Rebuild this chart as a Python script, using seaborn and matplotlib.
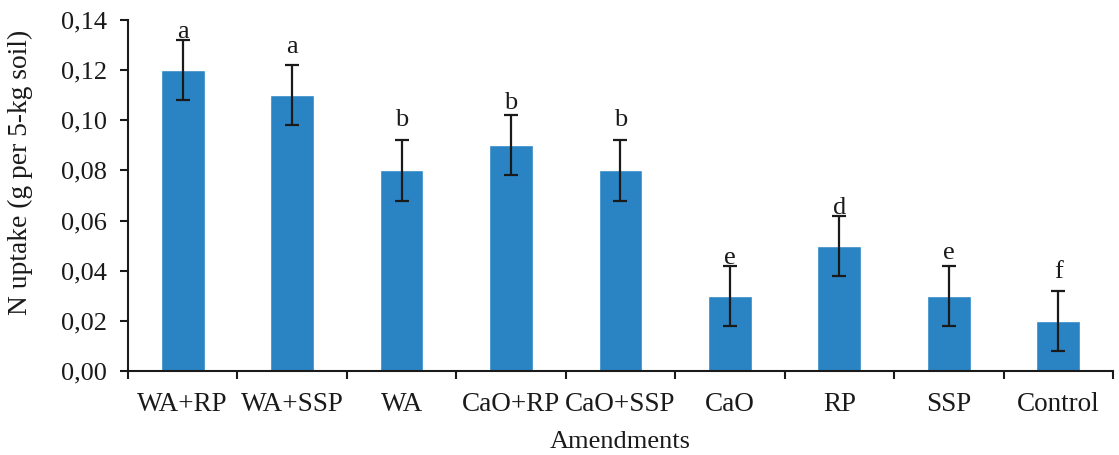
import matplotlib
matplotlib.use("Agg")
import matplotlib.pyplot as plt
import seaborn as sns
import pandas as pd
import numpy as np
from matplotlib.ticker import FuncFormatter, FixedLocator

categories = ["WA+RP", "WA+SSP", "WA", "CaO+RP", "CaO+SSP", "CaO", "RP", "SSP", "Control"]
values = [0.12, 0.11, 0.08, 0.09, 0.08, 0.03, 0.05, 0.03, 0.02]
errors = [0.012, 0.012, 0.012, 0.012, 0.012, 0.012, 0.012, 0.012, 0.012]
letters = ["a", "a", "b", "b", "b", "e", "d", "e", "f"]
letter_y = [0.1352, 0.1292, 0.1001, 0.1069, 0.1001, 0.0451, 0.065, 0.0471, 0.0395]
y_ticks = [0.00, 0.02, 0.04, 0.06, 0.08, 0.10, 0.12, 0.14]

sns.set_theme(style="white")
plt.rcParams["font.family"] = ["Liberation Serif", "DejaVu Serif"]

df = pd.DataFrame({"Amendments": categories, "N": values})

fig = plt.figure(figsize=(11.19, 4.55), dpi=100)
ax = fig.add_axes([0.1144, 0.1846, 0.9946 - 0.1144, 0.956 - 0.1846])

sns.barplot(data=df, x="Amendments", y="N", color="#2a84c4", saturation=1,
            width=0.4, ax=ax, errorbar=None)
x = np.arange(len(categories))
ax.errorbar(x, values, yerr=errors, fmt="none", ecolor="#1a1a1a",
            elinewidth=1.6, capsize=5, capthick=1.6)
for xi, lab, ly in zip(x, letters, letter_y):
    ax.text(xi, ly, lab, ha="center", va="center", fontsize=19, color="#1a1a1a")

ax.set_xlim(-0.5, len(categories) - 0.5)
ax.set_ylim(0, 0.14)
ax.set_yticks(y_ticks)
ax.yaxis.set_major_formatter(FuncFormatter(lambda v, p: f"{v:.2f}".replace(".", ",")))
ax.xaxis.set_minor_locator(FixedLocator(np.arange(-0.5, len(categories), 1.0)))
ax.tick_params(axis="x", which="major", length=0, pad=15, labelsize=19.5, colors="#1a1a1a")
ax.tick_params(axis="x", which="minor", length=6, width=1.5, direction="out", color="#1a1a1a", bottom=True)
ax.tick_params(axis="y", which="major", length=6, width=1.5, direction="out", labelsize=19,
               colors="#1a1a1a", left=True, pad=9)

for s in ["top", "right"]:
    ax.spines[s].set_visible(False)
for s in ["left", "bottom"]:
    ax.spines[s].set_color("#1a1a1a")
    ax.spines[s].set_linewidth(1.5)

ax.set_xlabel("Amendments", fontsize=19, color="#1a1a1a", labelpad=10)
ax.set_ylabel("N uptake (g per 5-kg soil)", fontsize=19.8, color="#1a1a1a")
ax.yaxis.set_label_coords(-0.0964, 0.567)

fig.savefig("out.png", dpi=100)
